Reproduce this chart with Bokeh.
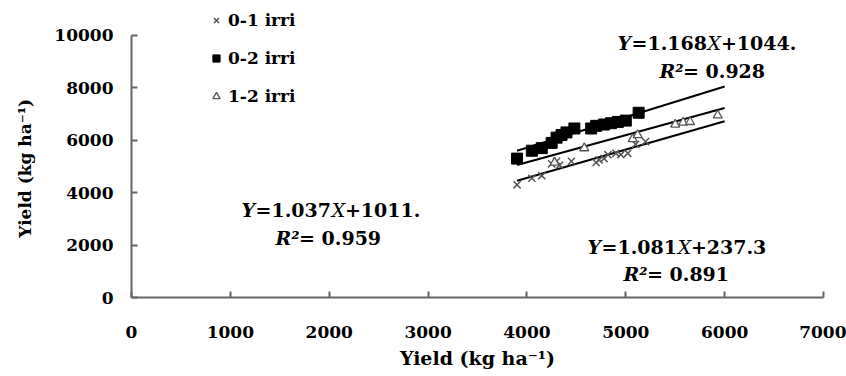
from bokeh.plotting import figure
from bokeh.models import (Range1d, FixedTicker, Label, Legend, LegendItem)
from bokeh.embed import file_html
from bokeh.resources import INLINE

# ---------------- data ----------------
x_01 = [3900, 4050, 4150, 4250, 4300, 4330, 4450, 4700, 4730, 4780, 4820, 4900, 4950, 5020, 5100, 5200]
y_01 = [4300, 4550, 4650, 5100, 5200, 5050, 5200, 5150, 5250, 5300, 5450, 5500, 5450, 5500, 5850, 5950]

x_02 = [3900, 4050, 4150, 4250, 4300, 4350, 4400, 4480, 4650, 4700, 4780, 4850, 4920, 5000, 5130]
y_02 = [5300, 5600, 5700, 5900, 6100, 6200, 6300, 6450, 6450, 6550, 6600, 6650, 6700, 6750, 7050]

x_12 = [4280, 4580, 5070, 5120, 5500, 5580, 5650, 5930]
y_12 = [5150, 5700, 6050, 6200, 6600, 6680, 6700, 6950]

# regression fits: (slope, intercept)
fit_01 = (1.081, 237.3)
fit_02 = (1.168, 1044.0)
fit_12 = (1.037, 1011.0)
fit_x = [3900, 6000]

x_ticks = [0, 1000, 2000, 3000, 4000, 5000, 6000, 7000]
y_ticks = [0, 2000, 4000, 6000, 8000, 10000]

series_labels = ["0-1 irri", "0-2 irri", "1-2 irri"]
axis_title = "Yield (kg ha\u207b\u00b9)"

# ---------------- figure ----------------
FONT = "DejaVu Serif"

p = figure(width=846, height=376, output_backend="svg", toolbar_location=None,
           x_range=Range1d(0, 7000), y_range=Range1d(0, 10990),
           min_border_left=131, min_border_right=23, min_border_top=9, min_border_bottom=79)
p.outline_line_color = None
p.xgrid.visible = False
p.ygrid.visible = False
p.background_fill_color = "white"
p.border_fill_color = "white"

for ax, ticks in ((p.xaxis[0], x_ticks), (p.yaxis[0], y_ticks)):
    ax.ticker = FixedTicker(ticks=ticks)
    ax.minor_tick_line_color = None
    ax.major_tick_in = 6
    ax.major_tick_out = 0
    ax.axis_line_color = "#666666"
    ax.axis_line_width = 2
    ax.major_tick_line_color = "#666666"
    ax.major_tick_line_width = 2
    ax.major_label_text_font = FONT
    ax.major_label_text_font_style = "bold"
    ax.major_label_text_font_size = "17px"
    ax.major_label_text_color = "black"
    ax.axis_label_text_font = FONT
    ax.axis_label_text_font_style = "bold"
    ax.axis_label_text_color = "black"

p.yaxis.bounds = (0, 10000)
p.xaxis.axis_label = axis_title
p.xaxis.major_label_standoff = 28
p.xaxis.axis_label_standoff = 6
p.xaxis.axis_label_text_font_size = "19px"
p.yaxis.major_label_standoff = 18
# trailing no-break spaces shift the visible title down to the middle of the 0-10000 span
p.yaxis.axis_label = axis_title + "\u00a0" * 5
p.yaxis.axis_label_standoff = 16
p.yaxis.axis_label_text_font_size = "17px"

# regression lines
for (m, b) in (fit_01, fit_02, fit_12):
    p.line(x=fit_x, y=[m * v + b for v in fit_x], line_color="black", line_width=2)

r01 = p.scatter(x=x_01, y=y_01, marker="x", size=10, line_color="#555555", line_width=1.5)
r02 = p.scatter(x=x_02, y=y_02, marker="square", size=11, fill_color="black", line_color="black")
r12 = p.scatter(x=x_12, y=y_12, marker="triangle", size=9, fill_color="white",
                line_color="#555555", line_width=1.3)

legend = Legend(items=[LegendItem(label=series_labels[0], renderers=[r01]),
                       LegendItem(label=series_labels[1], renderers=[r02]),
                       LegendItem(label=series_labels[2], renderers=[r12])],
                location=(76, 191), orientation="vertical",
                border_line_color=None, background_fill_alpha=0,
                padding=0, margin=0, spacing=18,
                glyph_height=20, glyph_width=18, label_height=20, label_standoff=3,
                label_text_font=FONT, label_text_font_style="bold",
                label_text_font_size="17px", label_text_color="black")
p.add_layout(legend)

# equations made of styled pieces
W = {"0": .696, "1": .696, "2": .696, "3": .696, "4": .696, "5": .696, "6": .696,
     "7": .696, "8": .696, "9": .696, ".": .38, "=": .838, "+": .838, "\u00b2": .438,
     "Y": .74, "X": .70, "R": .80, " ": .32}


def text_w(s, size):
    return sum(W.get(c, .6) for c in s) * size


def add_pieces(x, y, pieces, size=19):
    off = 0.0
    for txt, style in pieces:
        p.add_layout(Label(x=x, y=y, x_offset=off, text=txt, text_font=FONT,
                           text_font_style=style, text_font_size=f"{size}px",
                           text_baseline="middle", text_align="left", text_color="black"))
        off += text_w(txt, size)


def add_equation(x1, y1, x2, y2, fit, r2):
    m, b = fit
    b_txt = f"{b:.1f}" if b < 1000 else f"{b:.0f}."
    add_pieces(x1, y1, [("Y", "bold italic"), ("=" + f"{m:.3f}", "bold"), ("X", "italic"),
                        ("+" + b_txt, "bold")])
    add_pieces(x2, y2, [("R\u00b2", "bold italic"), (" = " + f"{r2:.3f}", "bold")])


add_equation(4916, 9695, 5341, 8626, fit_02, 0.928)
add_equation(1113, 3321, 1457, 2252, fit_12, 0.959)
add_equation(4613, 1908, 4977, 878, fit_01, 0.891)

open("out.html", "w").write(file_html(p, INLINE))
